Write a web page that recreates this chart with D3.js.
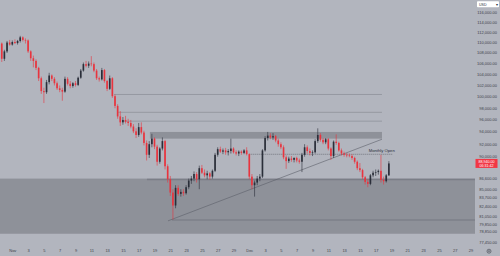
<!DOCTYPE html>
<html>
<head>
<meta charset="utf-8">
<script src="https://cdn.jsdelivr.net/npm/d3@7"></script>
<style>
  body { margin: 0; background: #b2b5be; }
  svg { display: block; }
  text { font-family: "Liberation Sans", Arial, sans-serif; }
</style>
</head>
<body>
<div id="chart"></div>
<script>
// BTC/USD 8h candles, prices in thousands of USD
const candleStart = Date.UTC(2025, 9, 30, 16);
const candleHours = 8;

const opens = [109.8,106.9,108.3,110.0,109.6,110.1,109.9,110.3,111.0,110.5,110.4,108.3,107.0,106.5,105.2,103.3,101.0,100.8,102.6,103.8,
  103.2,102.4,101.5,101.2,100.9,103.2,102.3,101.9,102.4,102.1,103.4,104.7,105.9,105.6,106.0,105.9,104.7,103.3,103.1,104.8,
  102.8,101.4,103.3,100.1,98.4,96.6,95.6,96.0,95.7,95.5,94.9,94.1,93.5,94.8,93.9,92.2,90.3,92.0,92.9,91.6,
  89.2,91.3,92.5,88.5,86.5,84.5,82.6,85.2,84.3,84.6,84.4,85.3,86.3,86.6,87.3,86.5,88.2,87.5,87.1,87.4,
  86.9,87.8,90.3,91.2,90.8,91.0,90.7,90.9,91.3,90.7,90.5,90.8,90.6,91.0,90.4,86.9,85.6,86.0,86.6,86.9,
  91.0,93.0,93.4,93.1,93.3,92.6,92.0,91.5,89.9,89.3,89.7,89.5,89.8,89.4,89.2,90.3,91.5,90.9,90.6,90.7,
  92.5,93.5,92.7,92.3,92.8,91.3,90.1,92.4,92.2,91.0,90.5,90.3,90.2,90.1,89.8,89.2,88.2,87.9,86.8,86.1,
  85.8,87.1,87.5,87.6,87.8,86.4,86.2,87.1];
const highs = [110.0,108.6,110.3,110.5,110.4,110.6,110.5,111.3,111.2,110.8,110.6,108.5,107.5,106.8,105.4,103.6,101.6,103.0,104.3,104.0,
  103.5,102.7,102.0,101.6,103.6,103.5,102.8,102.6,102.8,103.6,105.0,106.2,106.5,106.4,107.4,106.2,105.0,103.6,105.2,105.0,
  103.0,103.8,103.5,100.4,98.7,97.5,96.5,96.7,96.2,96.0,95.3,94.6,95.5,95.6,94.2,92.6,92.5,93.7,93.1,91.9,
  91.5,93.1,92.7,88.8,87.0,85.0,85.6,85.6,85.0,85.0,85.6,86.6,87.0,87.7,87.6,88.6,88.7,88.0,87.8,87.6,
  88.0,90.6,91.5,91.6,91.3,91.4,91.2,92.9,91.5,91.0,91.0,91.0,91.2,91.5,90.5,87.3,86.3,87.0,87.3,91.2,
  93.3,94.0,93.8,93.8,93.5,92.9,92.3,91.8,90.2,90.0,90.1,89.9,90.0,89.7,90.6,92.0,91.8,91.3,91.0,92.8,
  94.6,93.8,93.0,93.0,93.0,91.5,92.6,93.6,92.4,91.3,90.8,90.6,90.5,90.4,90.0,89.4,89.0,88.1,87.0,86.5,
  87.3,87.8,88.0,88.0,90.3,86.9,87.3,89.3];
const lows = [106.3,106.5,108.0,109.4,109.4,109.7,109.6,110.0,110.2,109.8,108.0,106.5,105.3,104.8,102.8,100.5,98.9,100.5,102.2,102.8,
  102.0,101.2,100.8,99.3,100.7,102.0,101.5,101.6,101.8,101.9,103.2,104.5,105.3,105.2,105.5,104.4,103.0,102.7,102.9,102.5,
  101.0,101.2,99.8,98.0,96.2,95.0,95.2,95.4,95.0,94.6,93.8,93.0,93.2,93.6,91.8,89.4,89.8,91.5,91.2,88.6,
  88.9,91.0,88.0,86.0,84.0,80.6,82.2,84.0,83.9,84.0,84.2,85.0,85.8,86.2,86.0,85.0,87.3,86.8,86.5,86.4,
  86.6,87.6,90.0,90.6,90.4,90.3,90.2,90.5,90.5,90.2,90.1,90.3,90.4,90.2,86.5,85.0,83.9,85.6,86.2,86.7,
  90.8,92.6,92.8,92.7,92.3,91.6,91.2,89.6,88.1,89.0,89.2,89.1,89.1,88.9,87.6,90.0,90.5,90.2,90.1,90.5,
  92.2,92.4,92.0,92.0,91.0,89.5,89.8,91.9,90.8,90.2,90.0,89.9,89.9,89.5,88.9,87.9,87.6,86.5,85.7,85.3,
  85.6,86.8,87.0,87.2,86.0,85.7,86.0,87.0];
const closes = [106.9,108.3,110.0,109.6,110.1,109.9,110.3,111.0,110.5,110.4,108.3,107.0,106.5,105.2,103.3,101.0,100.8,102.6,103.8,103.2,
  102.4,101.5,101.2,100.9,103.2,102.3,101.9,102.4,102.1,103.4,104.7,105.9,105.6,106.0,105.9,104.7,103.3,103.1,104.8,102.8,
  101.4,103.3,100.1,98.4,96.6,95.6,96.0,95.7,95.5,94.9,94.1,93.5,94.8,93.9,92.2,90.3,92.0,92.9,91.6,89.2,
  91.3,92.5,88.5,86.5,84.5,82.6,85.2,84.3,84.6,84.4,85.3,86.3,86.6,87.3,86.5,88.2,87.5,87.1,87.4,86.9,
  87.8,90.3,91.2,90.8,91.0,90.7,90.9,91.3,90.7,90.5,90.8,90.6,91.0,90.4,86.9,85.6,86.0,86.6,86.9,91.0,
  93.0,93.4,93.1,93.3,92.6,92.0,91.5,89.9,89.3,89.7,89.5,89.8,89.4,89.2,90.3,91.5,90.9,90.6,90.7,92.5,
  93.5,92.7,92.3,92.8,91.3,90.1,92.4,92.2,91.0,90.5,90.3,90.2,90.1,89.8,89.2,88.2,87.9,86.8,86.1,85.8,
  87.1,87.5,87.6,87.8,86.4,86.2,87.1,88.94];

// price scale labels (TradingView log scale)
const priceTicks = [116000,114000,112000,110000,108000,106000,104000,102000,100000,98000,96000,94000,92000,90000,
  86600,85000,83700,82400,81050,79850,78850,77450];
const countdown = "06:31:42";

// time axis labels
const novTickDays = [1,3,5,7,9,11,13,15,17,19,21,23,25,27,29];
const decTickDays = [1,3,5,7,9,11,13,15,17,19,21,23,25,27,29];

// drawings (USD)
const hLevels = [100400, 97300, 95800];
const hLevelStarts = [Date.UTC(2025,10,13,21), Date.UTC(2025,10,14,9), Date.UTC(2025,10,14,21)];
const drawEnd = Date.UTC(2025,11,17,19);
const resistBox = [92900, 94000];
const resistStart = Date.UTC(2025,10,18,10);
const supportZone = [78600, 86600];
const supportLine = 86450;
const supportLineStart = Date.UTC(2025,10,18,1);
const lowLine = 80520;
const lowLineStart = Date.UTC(2025,10,21,5);
const trendFrom = [Date.UTC(2025,10,20,17), 80400];
const trendTo = [Date.UTC(2025,11,17,19), 92800];
const monthlyOpen = 90380;
const monthlyOpenSpan = [Date.UTC(2025,11,1), Date.UTC(2025,11,19,2)];

const width = 500, height = 256;
const plotRight = 475, plotBottom = 247;

const svg = d3.select('#chart').append('svg')
  .attr('width', width)
  .attr('height', height);

svg.append('rect').attr('width', width).attr('height', height).attr('fill', '#b2b5be');

const x = d3.scaleUtc()
  .domain([Date.UTC(2025,10,1), Date.UTC(2025,11,29)])
  .range([12.3, 470.5]);

const y = d3.scaleLog()
  .domain([80000, 116000])
  .range([223.7, 12.3]);

const candles = closes.map((c, i) => ({
  t: candleStart + i * candleHours * 3600e3,
  o: opens[i] * 1000, h: highs[i] * 1000, l: lows[i] * 1000, c: c * 1000
}));

svg.append('clipPath').attr('id', 'plot')
  .append('rect').attr('width', plotRight).attr('height', plotBottom);

const plot = svg.append('g').attr('clip-path', 'url(#plot)');

// support zone
plot.append('rect')
  .attr('x', 0).attr('width', plotRight)
  .attr('y', y(supportZone[1]))
  .attr('height', y(supportZone[0]) - y(supportZone[1]))
  .attr('fill', '#8e9199');

plot.append('line')
  .attr('x1', x(supportLineStart)).attr('x2', plotRight)
  .attr('y1', y(supportLine)).attr('y2', y(supportLine))
  .attr('stroke', '#7b7e87').attr('stroke-width', 1.5);

plot.append('line')
  .attr('x1', x(lowLineStart)).attr('x2', plotRight)
  .attr('y1', y(lowLine)).attr('y2', y(lowLine))
  .attr('stroke', '#6f727b').attr('stroke-width', 0.8);

// resistance box + levels
plot.append('rect')
  .attr('x', x(resistStart)).attr('width', x(drawEnd) - x(resistStart))
  .attr('y', y(resistBox[1]))
  .attr('height', y(resistBox[0]) - y(resistBox[1]))
  .attr('fill', '#8e9199');

plot.selectAll('.level').data(hLevels).enter().append('line')
  .attr('class', 'level')
  .attr('x1', (d, i) => x(hLevelStarts[i])).attr('x2', x(drawEnd))
  .attr('y1', d => y(d)).attr('y2', d => y(d))
  .attr('stroke', '#8a8d95').attr('stroke-width', 0.7);

// trend line
plot.append('line')
  .attr('x1', x(trendFrom[0])).attr('y1', y(trendFrom[1]))
  .attr('x2', x(trendTo[0])).attr('y2', y(trendTo[1]))
  .attr('stroke', '#5d6069').attr('stroke-width', 0.6);

// monthly open
plot.append('line')
  .attr('x1', x(monthlyOpenSpan[0])).attr('x2', x(monthlyOpenSpan[1]))
  .attr('y1', y(monthlyOpen)).attr('y2', y(monthlyOpen))
  .attr('stroke', '#4a4d56').attr('stroke-width', 0.6)
  .attr('stroke-dasharray', '1,1');

plot.append('text')
  .attr('x', (x(monthlyOpenSpan[0]) + x(monthlyOpenSpan[1])) / 2 + 61)
  .attr('y', y(monthlyOpen) - 2)
  .attr('text-anchor', 'middle')
  .attr('font-size', 4.2)
  .attr('fill', '#2a2e39')
  .text('Monthly Open');

// candles
const step = x(candleStart + candleHours * 3600e3) - x(candleStart);
const bodyW = step * 0.62;
const upColor = '#2a2e39', downColor = '#e8343e';

const cg = plot.selectAll('.candle').data(candles).enter().append('g')
  .attr('class', 'candle');

cg.append('line')
  .attr('x1', d => x(d.t)).attr('x2', d => x(d.t))
  .attr('y1', d => y(d.h)).attr('y2', d => y(d.l))
  .attr('stroke', d => d.c >= d.o ? upColor : downColor)
  .attr('stroke-width', 0.6);

cg.append('rect')
  .attr('x', d => x(d.t) - bodyW / 2)
  .attr('width', bodyW)
  .attr('y', d => y(Math.max(d.o, d.c)))
  .attr('height', d => Math.max(0.6, Math.abs(y(d.o) - y(d.c))))
  .attr('fill', d => d.c >= d.o ? upColor : downColor);

// price axis
const fmt = d3.format(',.2f');
svg.append('g').selectAll('text').data(priceTicks).enter().append('text')
  .attr('x', 497).attr('y', d => y(d))
  .attr('dy', '0.35em')
  .attr('text-anchor', 'end')
  .attr('font-size', 4)
  .attr('fill', '#3d4049')
  .text(d => fmt(d));

// current price label
const last = candles[candles.length - 1];
const ly = y(last.c);
svg.append('rect')
  .attr('x', 475.5).attr('y', ly - 4.5)
  .attr('width', 22).attr('height', 9)
  .attr('fill', '#f23645');
svg.append('text')
  .attr('x', 486.5).attr('y', ly - 0.6)
  .attr('text-anchor', 'middle').attr('font-size', 3.6).attr('fill', '#fff')
  .text(fmt(last.c));
svg.append('text')
  .attr('x', 486.5).attr('y', ly + 3.3)
  .attr('text-anchor', 'middle').attr('font-size', 3.6).attr('fill', '#fff')
  .text(countdown);

// USD selector
svg.append('rect')
  .attr('x', 477).attr('y', 1.3).attr('width', 22).attr('height', 6)
  .attr('rx', 0.8).attr('fill', '#ffffff');
svg.append('text')
  .attr('x', 479).attr('y', 5.6).attr('font-size', 3.6).attr('fill', '#2a2e39').text('USD');
svg.append('text')
  .attr('x', 495.5).attr('y', 5.6).attr('font-size', 3.6).attr('fill', '#2a2e39').text('▾');

// time axis
const tickDates = novTickDays.map(d => Date.UTC(2025,10,d))
  .concat(decTickDays.map(d => Date.UTC(2025,11,d)));

const xAxis = svg.append('g')
  .attr('transform', `translate(0,${plotBottom})`)
  .call(d3.axisBottom(x)
    .tickValues(tickDates.map(d => new Date(d)))
    .tickSize(0)
    .tickFormat(d => d.getUTCDate() === 1 ? d3.utcFormat('%b')(d) : d.getUTCDate()));

xAxis.select('.domain').remove();
xAxis.selectAll('text')
  .attr('y', 3.6)
  .attr('dy', '0.35em')
  .attr('font-size', 4)
  .attr('fill', '#3d4049')
  .style('font-family', '"Liberation Sans", Arial, sans-serif');

// settings gear
svg.append('circle').attr('cx', 489).attr('cy', 251.2).attr('r', 2)
  .attr('fill', 'none').attr('stroke', '#3d4049').attr('stroke-width', 0.6);
svg.append('circle').attr('cx', 489).attr('cy', 251.2).attr('r', 0.7)
  .attr('fill', 'none').attr('stroke', '#3d4049').attr('stroke-width', 0.5);
</script>
</body>
</html>
